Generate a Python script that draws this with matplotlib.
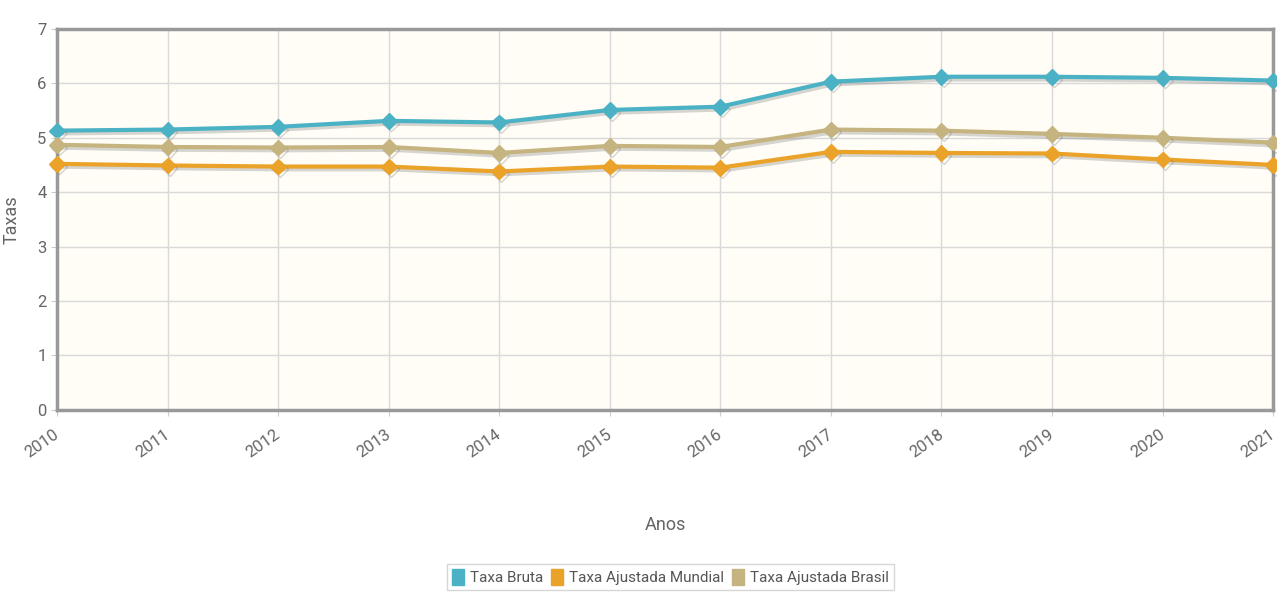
# Taxas por ano: Bruta, Ajustada Mundial, Ajustada Brasil

import matplotlib.pyplot as plt
import matplotlib.patheffects as pe
import matplotlib.transforms as mtrans
from matplotlib.patches import Patch

# Dados
anos = [2010, 2011, 2012, 2013, 2014, 2015, 2016, 2017, 2018, 2019, 2020, 2021]
taxa_bruta = [5.13, 5.15, 5.20, 5.31, 5.28, 5.51, 5.57, 6.03, 6.12, 6.12, 6.10, 6.05]
taxa_mundial = [4.52, 4.49, 4.47, 4.47, 4.38, 4.47, 4.45, 4.74, 4.72, 4.71, 4.60, 4.50]
taxa_brasil = [4.87, 4.83, 4.82, 4.83, 4.72, 4.85, 4.83, 5.15, 5.13, 5.07, 5.00, 4.91]

series = [
    ('Taxa Bruta', taxa_bruta, '#4bb2c5'),
    ('Taxa Ajustada Mundial', taxa_mundial, '#eaa228'),
    ('Taxa Ajustada Brasil', taxa_brasil, '#c5b47f'),
]

plt.rcParams['font.family'] = ['Roboto', 'DejaVu Sans']

fig = plt.figure(figsize=(12.77, 6.01), dpi=100)
ax = fig.add_axes([0.0446, 0.318, 0.9524, 0.634])
ax.set_facecolor('#fffdf6')

# Linhas com sombra leve (estilo jqPlot)
sombra = [pe.SimpleLineShadow(offset=(1.5, -2), shadow_color='#777777', alpha=0.3), pe.Normal()]
for nome, valores, cor in series:
    ax.plot(anos, valores, color=cor, linewidth=3, marker='D', markersize=8,
            markeredgecolor=cor, label=nome, path_effects=sombra, clip_on=False, zorder=3)

ax.set_xlim(2010, 2021)
ax.set_ylim(0, 7)
ax.set_xticks(anos)
ax.set_yticks(range(0, 8))
ax.grid(color='#d9d9d9', linewidth=1)
ax.set_axisbelow(True)
for s in ax.spines.values():
    s.set_color('#999999')
    s.set_linewidth(2.5)

ax.tick_params(axis='both', colors='#cccccc', labelcolor='#666666', labelsize=12, length=4)
ax.tick_params(axis='x', pad=8)
deslocamento = mtrans.ScaledTranslation(-4 / 100, 0, fig.dpi_scale_trans)
for lbl in ax.get_xticklabels():
    lbl.set_rotation(35)
    lbl.set_ha('right')
    lbl.set_rotation_mode('anchor')
    lbl.set_transform(lbl.get_transform() + deslocamento)

ax.set_ylabel('Taxas', fontsize=13, color='#666666', labelpad=12)
ax.set_xlabel('Anos', fontsize=13, color='#666666', labelpad=40)

handles = [Patch(facecolor=c, edgecolor=c) for _, _, c in series]
fig.legend(handles, [n for n, _, _ in series], loc='center', bbox_to_anchor=(0.525, 0.04),
           ncol=3, frameon=True, fontsize=11, handlelength=0.8, handleheight=1.3,
           handletextpad=0.4, columnspacing=0.5, borderpad=0.3, fancybox=False,
           edgecolor='#cccccc', labelcolor='#555555')

fig.savefig('out.png', dpi=100)
